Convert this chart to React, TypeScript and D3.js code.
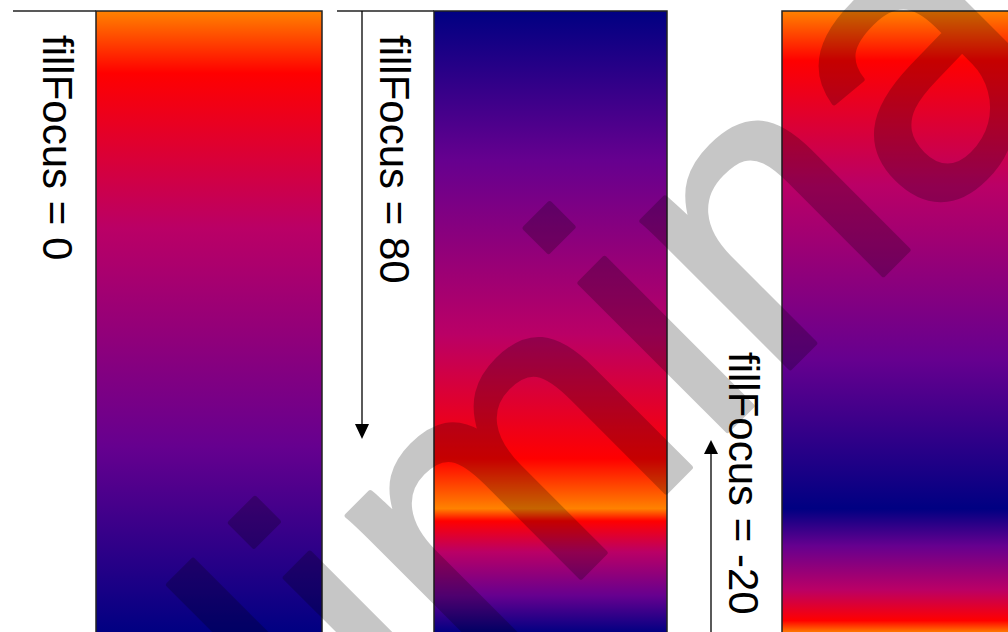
import React from "react";
import * as d3 from "d3";

// ---- data ----
const focusValues = [0, 80, -20];
const labelPrefix = "fillFocus = ";
// Office preset "Early Sunset", listed from the top of the fill downward
const presetColors = ["#FF8200", "#FF0000", "#BA0066", "#66008F", "#000082"];
const presetPositions = [0, 0.1, 0.35, 0.7, 1];
const watermarkText = "Preliminary";

// ---- layout ----
const W = 1008;
const H = 632;
const rectTop = 11;
const rectBottom = 633;
const rectX = [96, 434, 782];
const rectW = [226, 233, 240];
const labelX = [43, 380, 729];
const labelY = [35, 35, 352];
const fontFamily = "'Liberation Sans', Arial, Helvetica, sans-serif";

type Stop = { offset: number; color: string };

function focusStops(focus: number): Stop[] {
  const base = presetPositions.map((p, i) => ({ p, c: presetColors[i] }));
  if (focus === 0) return base.map((s) => ({ offset: s.p, color: s.c }));
  const f = Math.abs(focus) / 100;
  const out: Stop[] = [];
  if (focus > 0) {
    // reversed from 0..f, then forward from f..1
    [...base].reverse().forEach((s) => out.push({ offset: (1 - s.p) * f, color: s.c }));
    base.forEach((s) => out.push({ offset: f + s.p * (1 - f), color: s.c }));
  } else {
    const g = 1 - f;
    base.forEach((s) => out.push({ offset: s.p * g, color: s.c }));
    [...base].reverse().forEach((s) => out.push({ offset: g + (1 - s.p) * f, color: s.c }));
  }
  return out;
}

export default function App() {
  const y = d3.scaleLinear().domain([0, 1]).range([rectTop, rectBottom]);
  const wmSize = 395;
  const wmLead = 1.778 * wmSize;

  return (
    <svg
      width={W}
      height={H}
      style={{ position: "fixed", left: 0, top: 0, background: "#fff" }}
      xmlns="http://www.w3.org/2000/svg"
    >
      <defs>
        {focusValues.map((fv, i) => (
          <linearGradient key={i} id={`grad${i}`} x1="0" y1="0" x2="0" y2="1">
            {focusStops(fv).map((s, j) => (
              <stop key={j} offset={s.offset} stopColor={s.color} />
            ))}
          </linearGradient>
        ))}
        <marker id="arrowhead" viewBox="0 0 10 10" refX="10" refY="5" markerWidth="8" markerHeight="8" orient="auto-start-reverse" markerUnits="userSpaceOnUse">
          <path d="M0,0 L10,5 L0,10 z" fill="#000" />
        </marker>
      </defs>
      <rect x={0} y={0} width={W} height={H} fill="#fff" />

      {focusValues.map((fv, i) => (
        <rect
          key={i}
          x={rectX[i]}
          y={y(0)}
          width={rectW[i]}
          height={y(1) - y(0)}
          fill={`url(#grad${i})`}
          stroke="#222"
          strokeWidth={1.5}
        />
      ))}

      {/* top reference lines */}
      <line x1={13} x2={rectX[0]} y1={rectTop} y2={rectTop} stroke="#222" strokeWidth={1.5} />
      <line x1={337} x2={rectX[1]} y1={rectTop} y2={rectTop} stroke="#222" strokeWidth={1.5} />

      {/* arrows */}
      <line x1={362} x2={362} y1={rectTop} y2={424} stroke="#000" strokeWidth={1.3} />
      <path d="M355,424 L369,424 L362,439 Z" fill="#000" />
      <line x1={711} x2={711} y1={H} y2={454} stroke="#000" strokeWidth={1.3} />
      <path d="M704,454 L718,454 L711,440 Z" fill="#000" />

      {/* labels */}
      {focusValues.map((fv, i) => (
        <text
          key={i}
          transform={`translate(${labelX[i]},${labelY[i]}) rotate(90)`}
          fontFamily={fontFamily}
          fontSize={42}
          fill="#000"
        >
          {labelPrefix + fv}
        </text>
      ))}

      {/* watermark */}
      <g opacity={0.22}>
        <text
          transform="translate(414,744) rotate(-45)"
          x={-wmLead}
          y={0}
          fontFamily={fontFamily}
          fontSize={wmSize}
          fill="#000"
          stroke="#000"
          strokeWidth={5}
          strokeLinejoin="round"
        >
          {watermarkText}
        </text>
      </g>
    </svg>
  );
}
